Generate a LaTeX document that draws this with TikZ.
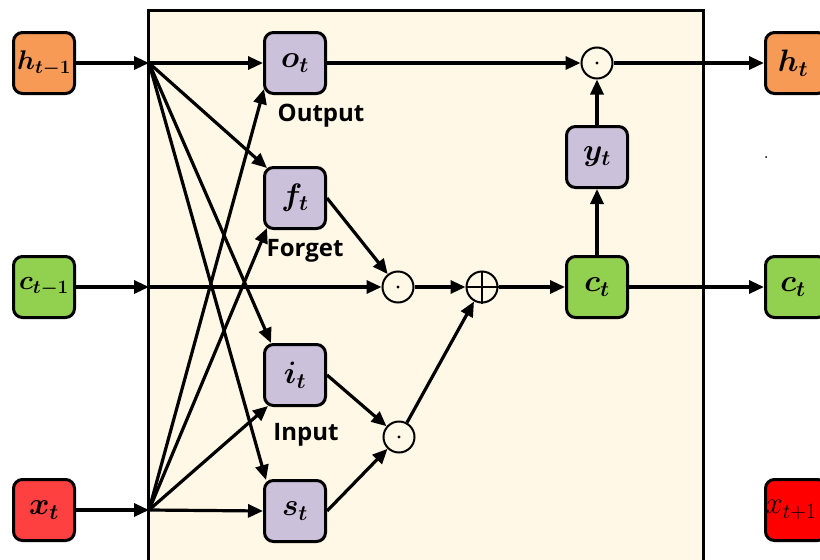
\RequirePackage{fix-cm}
\documentclass[tikz,border=0pt]{standalone}
\usepackage{amsmath,bm}
\usepackage{fontspec}
\newfontfamily\labelfont{Open Sans}
\usetikzlibrary{arrows.meta,calc}
\definecolor{orng}{HTML}{F79A55}
\definecolor{grn}{HTML}{92D050}
\definecolor{lav}{HTML}{CCC1DA}
\definecolor{redx}{HTML}{FF4040}
\definecolor{redr}{HTML}{FF0000}
\definecolor{cream}{HTML}{FFF8E6}
\begin{document}
\begin{tikzpicture}[x=1pt,y=-1pt,
  box/.style={draw=black,line width=3pt,rounded corners=9pt,minimum width=61pt,minimum height=61pt,inner sep=0pt,font=\fontsize{31}{34}\selectfont},
  smallbox/.style={box,font=\fontsize{27}{30}\selectfont},
  op/.style={circle,draw=black,line width=2pt,minimum size=31pt,inner sep=0pt},
  arr/.style={line width=3.2pt,-{Triangle[length=15pt,width=13pt]}},
  ln/.style={line width=3pt},
  lab/.style={font=\labelfont\bfseries\fontsize{24}{28}\selectfont}]
\useasboundingbox (0,0) rectangle (820,560);
\clip (0,0) rectangle (820,560);
% background block
\draw[ln,fill=cream] (148,10) rectangle (703,580);
% input boxes
\node[smallbox,fill=orng] (hprev) at (44,63) {$\bm{h}_{\bm{t-1}}$};
\node[smallbox,fill=grn] (cprev) at (44,287) {$\bm{c}_{\bm{t-1}}$};
\node[box,fill=redx] (xin) at (44,510) {$\bm{x}_{\bm{t}}$};
% junctions on border
\coordinate (hj) at (149,63);
\coordinate (cj) at (149,287);
\coordinate (xj) at (149,510);
% gates
\node[box,fill=lav] (o) at (295,63) {$\bm{o}_{\bm{t}}$};
\node[box,fill=lav] (f) at (295,198) {$\bm{f}_{\bm{t}}$};
\node[box,fill=lav] (i) at (295,375) {$\bm{i}_{\bm{t}}$};
\node[box,fill=lav] (s) at (295,511) {$\bm{s}_{\bm{t}}$};
\node[lab] (lo) at (321,116) {Output};
\node[lab] (lf) at (305,251) {Forget};
\node[lab] (li) at (306,435) {Input};
% operators
\node[op] (fdot) at (398,287) {};
\node[op] (idot) at (399,437) {};
\node[op] (plus) at (482,287) {};
\node[op] (hdot) at (597,63) {};
\fill (fdot.center) circle (1.6pt);
\fill (idot.center) circle (1.6pt);
\fill (hdot.center) circle (1.6pt);
\draw[line width=2pt] (plus.north) -- (plus.south) (plus.west) -- (plus.east);
% cell and output
\node[box,fill=grn] (ct) at (597,287) {$\bm{c}_{\bm{t}}$};
\node[box,fill=lav] (y) at (597,157) {$\bm{y}_{\bm{t}}$};
% outputs
\node[box,fill=orng] (hnext) at (796,63) {\hspace*{-6pt}$\bm{h}_{\bm{t}}$};
\node[box,fill=grn] (cnext) at (796,287) {\hspace*{-6pt}$\bm{c}_{\bm{t}}$};
\node[box,fill=redr] (xnext) at (796,510) {\hspace*{-10pt}$x_{t+1}$};
\fill (766,157) circle (1pt);
% input arrows
\draw[arr] (hprev) -- (hj);
\draw[arr] (cprev) -- (cj);
\draw[arr] (xin) -- (xj);
% fan from h
\draw[arr] (hj) -- (o.west);
\draw[arr] (hj) -- ($(f.north west)+(4,2)$);
\draw[arr] (hj) -- ($(i.north west)+(8,0)$);
\draw[arr] (hj) -- ($(s.north west)+(3,1)$);
% fan from x
\draw[arr] (xj) -- (s.west);
\draw[arr] (xj) -- ($(i.south west)+(5,-1)$);
\draw[arr] (xj) -- ($(f.south west)+(4,-2)$);
\draw[arr] (xj) -- ($(o.south west)+(1,-6)$);
% cell path
\draw[arr] (cj) -- (fdot);
\draw[arr] (f.east) -- (fdot);
\draw[arr] (i.east) -- (idot);
\draw[arr] (s.east) -- (idot);
\draw[arr] (fdot) -- (plus);
\draw[arr] (idot) -- (plus);
\draw[arr] (plus) -- (ct);
\draw[arr] (ct) -- (y);
\draw[arr] (y) -- (hdot);
\draw[arr] (o) -- (hdot);
\draw[arr] (hdot) -- (hnext);
\draw[arr] (ct) -- (cnext);
\end{tikzpicture}
\end{document}
